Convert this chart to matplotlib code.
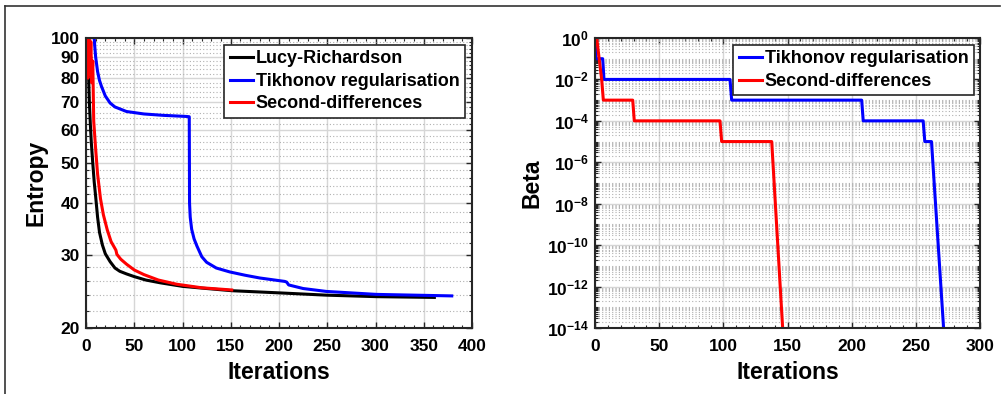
import matplotlib
matplotlib.use('Agg')
import matplotlib.pyplot as plt
from matplotlib.ticker import FixedLocator, MultipleLocator, FuncFormatter, NullFormatter
from matplotlib.lines import Line2D
import numpy as np

plt.rcParams['font.family'] = ['Liberation Sans', 'DejaVu Sans']
plt.rcParams['font.weight'] = 'bold'
plt.rcParams['mathtext.fontset'] = 'custom'
plt.rcParams['mathtext.rm'] = 'Liberation Sans:bold'
plt.rcParams['mathtext.bf'] = 'Liberation Sans:bold'

# --- left panel: entropy vs iterations ---
lr_x = [2, 2.5, 3.5, 4.5, 5.5, 7, 8.5, 10, 12, 14, 17, 20, 25, 30, 35, 42, 50, 62, 77,
        100, 125, 151, 201, 249, 301, 361]
lr_y = [84, 84, 70, 62, 56, 50, 45, 41.5, 37, 34, 31.7, 30.2, 28.9, 27.9, 27.4, 27.0,
        26.6, 26.1, 25.7, 25.2, 24.9, 24.6, 24.3, 24.0, 23.8, 23.7]

tik_x = [8, 9, 10, 12, 14, 16, 20, 25, 30, 42, 60, 80, 104, 107, 107.3, 108, 109.5, 112,
         115, 120, 125, 135, 149, 165, 180, 206, 208, 210, 225, 249, 275, 301, 340, 379]
tik_y = [105, 96, 90, 83, 79, 76.5, 72.5, 69.7, 68.2, 66.5, 65.6, 65.1, 64.7, 64.6, 40,
         37, 34.6, 32.8, 31.5, 29.7, 28.8, 27.9, 27.3, 26.8, 26.4, 25.9, 25.8, 25.4, 24.9,
         24.5, 24.3, 24.1, 24.0, 23.9]

sd_x = [1, 2, 3, 4, 5, 6, 7, 8, 10, 12, 15, 18, 22, 26, 30, 31, 32, 36, 42, 50, 60, 75,
        94, 120, 151]
sd_y = [105, 80, 105, 82, 98, 78, 88, 63, 54, 47, 41, 37.5, 34.5, 32.3, 31.1, 30.8, 30.1,
        29.3, 28.5, 27.6, 26.9, 26.1, 25.5, 25.0, 24.7]

# --- right panel: beta vs iterations ---
btik_x = [0.8, 0.8, 6, 7, 105.2, 106.5, 207.8, 209, 255.7, 257, 262.2, 280]
btik_y = [1e0, 1e-1, 1e-1, 1e-2, 1e-2, 1e-3, 1e-3, 1e-4, 1e-4, 1e-5, 1e-5, 1e-22]

bsd_x = [1.3, 5.2, 6.5, 29.4, 30.6, 97.4, 98.7, 137.7, 150]
bsd_y = [1e0, 1e-2, 1e-3, 1e-3, 1e-4, 1e-4, 1e-5, 1e-5, 1e-18]

W, H = 1006, 394
fig = plt.figure(figsize=(W / 100, H / 100), dpi=100)
ax1 = fig.add_axes([86 / W, 1 - 328 / H, 386 / W, 290 / H])
ax2 = fig.add_axes([595 / W, 1 - 328 / H, 385 / W, 290 / H])

# outer frame fragments
fig.add_artist(Line2D([5 / W, 1000 / W], [1 - 6 / H, 1 - 6 / H], color='#333333', lw=1.2))
fig.add_artist(Line2D([5 / W, 5 / W], [0, 1 - 6 / H], color='#333333', lw=1.2))

lw = 2.2
ax1.plot(lr_x, lr_y, color='black', lw=lw, label='Lucy-Richardson')
ax1.plot(tik_x, tik_y, color='blue', lw=lw, label='Tikhonov regularisation')
ax1.plot(sd_x, sd_y, color='red', lw=lw, label='Second-differences')

ax2.plot(btik_x, btik_y, color='blue', lw=lw, label='Tikhonov regularisation')
ax2.plot(bsd_x, bsd_y, color='red', lw=lw, label='Second-differences')

ax1.set_yscale('log')
ax1.set_xlim(0, 400)
ax1.set_ylim(20, 100)
ax1.yaxis.set_major_locator(FixedLocator(list(range(20, 101, 10))))
ax1.yaxis.set_minor_locator(FixedLocator([v for v in range(22, 100, 2) if v % 10]))
ax1.yaxis.set_major_formatter(FuncFormatter(lambda v, p: '%d' % round(v)))
ax1.yaxis.set_minor_formatter(NullFormatter())
ax1.xaxis.set_major_locator(MultipleLocator(50))
ax1.xaxis.set_minor_locator(MultipleLocator(10))

ax2.set_yscale('log')
ax2.set_xlim(0, 300)
ax2.set_ylim(1e-14, 1e0)
ax2.yaxis.set_major_locator(FixedLocator([10.0 ** e for e in range(-14, 1, 2)]))
ax2.yaxis.set_minor_locator(FixedLocator([m * 10.0 ** e for e in range(-14, 0)
                                          for m in range(1, 10) if not (m == 1 and e % 2 == 0)]))
ax2.yaxis.set_major_formatter(FuncFormatter(lambda v, p: r'$\mathbf{10^{%d}}$' % round(np.log10(v))))
ax2.yaxis.set_minor_formatter(NullFormatter())
ax2.xaxis.set_major_locator(MultipleLocator(50))
ax2.xaxis.set_minor_locator(MultipleLocator(10))

for ax in (ax1, ax2):
    ax.grid(True, which='major', color='#d6d6d6', lw=1.0, ls='-')
    ax.grid(True, which='minor', axis='y', color='#b0b0b0', lw=0.8, ls=(0, (1, 2)))
    ax.set_axisbelow(True)
    ax.tick_params(which='both', direction='in', top=True, right=True, color='#262626')
    ax.tick_params(which='major', length=4, width=1.0, labelsize=12.5)
    ax.tick_params(axis='x', which='major', pad=8)
    ax.tick_params(axis='y', which='major', pad=4.5)
    ax.tick_params(which='minor', length=2.5, width=0.8)
    for s in ax.spines.values():
        s.set_color('#262626')
        s.set_linewidth(1.5)
    ax.set_xlabel('Iterations', fontsize=16.5, fontweight='bold', labelpad=5)
    for lab in ax.get_xticklabels() + ax.get_yticklabels():
        lab.set_fontweight('bold')

ax1.set_ylabel('Entropy', fontsize=16.5, fontweight='bold', labelpad=2)
ax2.set_ylabel('Beta', fontsize=16.5, fontweight='bold', labelpad=2)

leg_kw = dict(loc='upper right', fancybox=False, framealpha=1, edgecolor='#262626',
              prop={'weight': 'bold', 'size': 13}, handlelength=1.3,
              handletextpad=0.15, borderpad=0.3, labelspacing=0.3, borderaxespad=0)
l1 = ax1.legend(bbox_to_anchor=(1 - 7 / 386, 1 - 7 / 290), **leg_kw)
l2 = ax2.legend(bbox_to_anchor=(1 - 6 / 385, 1 - 7 / 290), **leg_kw)
for l in (l1, l2):
    l.get_frame().set_linewidth(1.2)

fig.savefig('out.png', dpi=100)
